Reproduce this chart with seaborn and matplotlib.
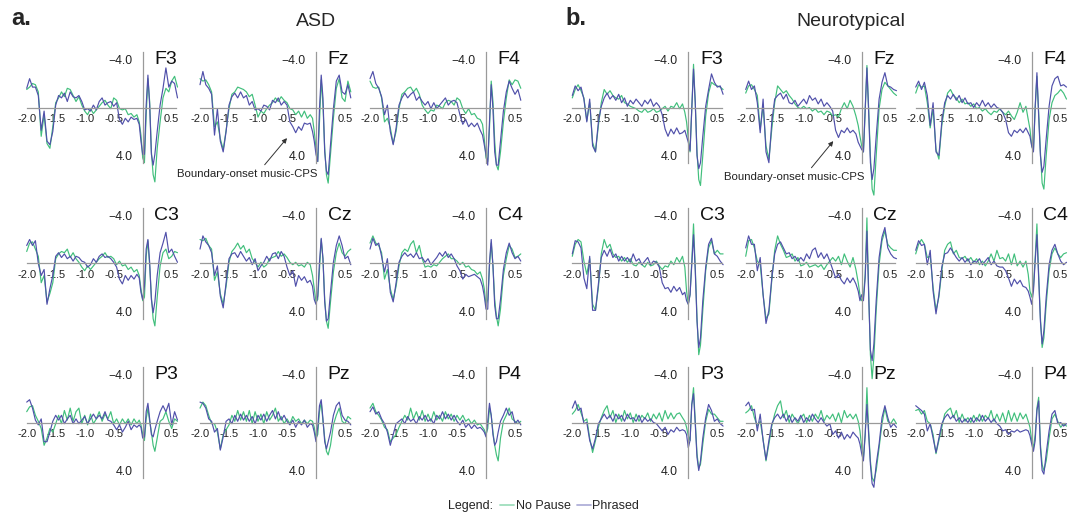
import pandas as pd
import seaborn as sns
import matplotlib.pyplot as plt
from matplotlib.lines import Line2D

# time axis (s), relative to boundary onset
time_s = [-2.00, -1.95, -1.90, -1.85, -1.80, -1.75, -1.70, -1.65, -1.60, -1.55,
          -1.50, -1.45, -1.40, -1.35, -1.30, -1.25, -1.20, -1.15, -1.10, -1.05,
          -1.00, -0.95, -0.90, -0.85, -0.80, -0.75, -0.70, -0.65, -0.60, -0.55,
          -0.50, -0.45, -0.40, -0.35, -0.30, -0.25, -0.20, -0.15, -0.10, -0.06,
          -0.03, 0.00, 0.03, 0.06, 0.09, 0.12, 0.15, 0.18, 0.21, 0.25,
          0.30, 0.35, 0.40, 0.45, 0.50, 0.55, 0.60]

# ---- ASD (uV, negative up) ----
asd_f3_nopause = [-1.5, -1.7, -2.0, -1.9, -1.3, 2.4, 0.6, 3.0, 3.4, 1.6,
                  -0.4, -0.8, -1.3, -0.9, -1.6, -1.5, -1.0, -0.5, -0.9, -0.2,
                  0.3, 0.6, 0.1, 0.5, 0.2, -0.1, -0.4, -0.6, -0.2, 0.1,
                  -0.8, -0.6, 0.1, 0.2, 0.1, 0.6, 0.5, 0.8, 0.6, 1.2,
                  2.3, 4.2, 4.6, 0.6, -2.4, -0.5, 3.7, 5.6, 6.2, 3.4,
                  1.2, -0.8, -1.6, -1.3, -2.2, -2.6, -1.7]
asd_f3_phrased = [-1.6, -2.4, -1.7, -1.7, -1.0, 1.9, 0.3, 2.8, 3.1, 2.0,
                  -0.2, -1.0, -0.8, -1.2, -0.5, -1.3, -0.9, -0.8, -1.0, -0.5,
                  0.2, 0.1, 0.3, -0.2, 0.2, -0.5, -0.8, -0.2, -0.4, -0.5,
                  -0.1, -0.4, 1.0, 1.4, 0.9, 1.2, 0.8, 1.0, 0.9, 1.4,
                  2.8, 3.9, 3.9, -0.2, -2.7, -0.2, 3.9, 4.8, 3.9, 2.0,
                  -0.2, -1.6, -3.3, -1.7, -2.2, -2.0, -0.8]
asd_fz_nopause = [-2.4, -2.2, -2.3, -1.9, -1.3, 1.6, 1.2, 2.6, 3.5, 1.9,
                  0.1, -1.1, -1.3, -1.7, -1.6, -1.5, -1.3, -0.9, -1.1, -0.2,
                  0.8, 0.3, 0.5, 0.1, -0.2, -0.4, -0.8, -0.5, -0.9, -0.6,
                  -0.4, 0.1, 0.2, 0.6, 0.3, 0.8, 0.3, 0.9, 0.6, 0.9,
                  2.0, 3.4, 4.5, 1.2, -2.3, -0.2, 3.4, 5.6, 6.3, 3.9,
                  0.9, -1.6, -2.4, -0.8, -0.5, -2.2, -1.3]
asd_fz_phrased = [-1.9, -3.0, -1.9, -1.6, -1.1, 2.3, 0.1, 2.8, 3.7, 2.0,
                  -0.2, -0.9, -1.2, -0.8, -1.3, -0.8, -1.0, -0.2, -0.5, 0.2,
                  0.1, 0.3, -0.2, -0.1, 0.2, -0.6, -0.4, -0.8, -0.2, -0.5,
                  -0.2, 1.2, 1.6, 2.1, 1.6, 1.9, 1.3, 1.4, 1.3, 2.0,
                  2.8, 3.9, 4.5, 0.1, -2.7, -0.8, 3.7, 5.3, 5.6, 3.1,
                  0.1, -2.2, -2.7, -1.3, -1.1, -1.9, -0.8]
asd_f4_nopause = [-2.2, -1.7, -1.6, -1.7, -0.8, 1.2, 0.9, 1.7, 3.0, 2.0,
                  0.1, -1.1, -1.3, -1.6, -1.7, -1.3, -1.6, -1.1, -0.2, 0.2,
                  0.5, 0.2, 0.3, -0.2, -0.1, 0.1, -0.4, -0.6, -0.5, -0.2,
                  -0.8, -0.6, 0.1, 0.5, 0.1, 0.6, 0.5, 0.9, 1.0, 1.4,
                  2.6, 4.2, 4.5, 1.7, -2.2, -0.5, 2.8, 4.8, 5.2, 3.7,
                  1.2, -0.8, -2.3, -1.9, -2.3, -2.2, -1.6]
asd_f4_phrased = [-2.4, -3.0, -2.0, -1.6, -0.9, 0.6, -0.2, 2.0, 3.1, 1.7,
                  -0.2, -0.8, -1.2, -0.8, -1.1, -1.3, -0.6, -0.9, -0.5, -0.2,
                  -0.5, 0.1, -0.4, 0.1, -0.2, -0.5, -0.8, -0.2, -0.5, -0.6,
                  -0.4, 0.6, 1.4, 1.0, 1.6, 1.3, 1.6, 1.3, 1.9, 2.3,
                  3.1, 3.9, 4.8, 1.2, -1.9, 0.1, 3.7, 4.8, 4.8, 2.8,
                  0.3, -1.3, -2.2, -1.6, -1.1, -1.5, -0.6]
asd_c3_nopause = [-1.0, -1.7, -1.8, -1.2, -0.6, 1.6, 1.0, 3.2, 2.5, 1.6,
                  -0.4, -0.8, -1.0, -0.9, -1.2, -0.5, -0.9, -0.4, -0.1, 0.3,
                  0.6, 0.2, 0.5, 0.2, -0.1, -0.4, -0.6, -0.9, -0.5, -0.6,
                  -0.4, 0.1, -0.2, 0.2, 0.1, 0.5, 0.3, 0.7, 0.5, 1.0,
                  2.1, 3.1, 2.8, -0.6, -1.9, 0.2, 2.8, 4.6, 5.2, 2.8,
                  0.2, -0.9, -1.2, -0.4, -0.6, -1.0, -0.9]
asd_c3_phrased = [-1.5, -2.0, -1.5, -1.9, 0.0, 1.0, 0.5, 3.4, 2.1, 1.0,
                  -0.6, -0.9, -0.5, -0.8, -0.4, -0.6, -0.2, -0.6, -0.5, -0.2,
                  -0.1, 0.3, 0.1, -0.4, -0.1, -0.6, -0.8, -0.5, -0.6, -0.4,
                  -0.1, 0.3, 1.3, 1.7, 1.0, 1.4, 1.0, 1.3, 0.9, 1.2,
                  2.4, 3.0, 1.9, -1.2, -2.0, -0.1, 3.0, 4.1, 3.2, 1.0,
                  -0.9, -1.7, -2.6, -0.9, -1.2, -0.6, -0.1]
asd_cz_nopause = [-2.0, -1.9, -2.1, -1.5, -1.2, 1.4, 0.7, 2.5, 3.4, 1.9,
                  -0.1, -1.0, -1.3, -1.7, -1.2, -1.5, -0.9, -1.2, -0.4, -0.1,
                  0.3, -0.1, 0.3, 0.1, -0.4, -0.5, -0.6, -1.0, -0.6, -0.8,
                  -0.5, -0.1, 0.1, -0.1, 0.2, 0.1, 0.3, -0.1, 0.1, 1.0,
                  2.1, 3.2, 3.0, 0.5, -2.0, -0.4, 3.0, 4.8, 5.4, 3.2,
                  0.7, -0.9, -1.7, -0.9, -0.6, -1.0, -1.2]
asd_cz_phrased = [-1.2, -2.3, -1.8, -1.5, -0.9, 1.0, 0.2, 2.7, 3.7, 1.6,
                  -0.4, -0.8, -0.9, -0.5, -1.0, -0.6, -0.2, -0.5, 0.1, -0.4,
                  0.6, 0.2, -0.1, -0.6, -0.2, -0.8, -0.9, -0.4, -1.0, -0.6,
                  0.3, 1.0, 0.6, 1.9, 1.0, 1.4, 1.1, 1.6, 1.4, 1.9,
                  3.0, 3.4, 2.7, -0.1, -2.1, -0.4, 3.2, 4.8, 4.6, 2.4,
                  -0.1, -1.5, -2.3, -1.5, -0.4, -0.6, 0.1]
asd_c4_nopause = [-1.7, -2.3, -1.7, -1.5, -0.9, 1.3, 0.5, 2.1, 3.0, 1.9,
                  0.2, -0.9, -1.2, -1.0, -1.6, -1.9, -0.9, -1.5, -0.4, 0.3,
                  0.2, 0.3, 0.1, 0.2, -0.1, -0.4, -0.6, -0.8, -0.4, -0.4,
                  -0.2, 0.1, -0.1, 0.3, 0.2, 0.5, 0.6, 0.9, 0.7, 1.3,
                  2.1, 3.5, 3.0, 0.2, -1.7, 0.2, 3.0, 4.4, 5.2, 3.8,
                  1.0, -0.4, -1.5, -1.2, -0.5, -0.6, -0.8]
asd_c4_phrased = [-1.2, -2.1, -1.5, -1.7, -0.6, 0.7, -0.4, 2.4, 3.2, 1.6,
                  -0.1, -0.6, -0.9, -0.6, -0.8, -0.5, -0.9, -0.4, -0.5, -0.1,
                  -0.4, 0.1, -0.2, -0.5, -0.9, -0.6, -1.0, -0.5, -0.8, -0.4,
                  0.2, 0.6, 1.3, 0.9, 1.1, 1.0, 0.9, 1.1, 1.3, 1.9,
                  2.7, 3.8, 3.8, -0.1, -2.0, 0.2, 3.5, 4.6, 4.6, 3.0,
                  0.5, -0.9, -1.7, -0.9, -0.4, -0.6, -0.2]
asd_p3_nopause = [-0.9, -1.3, -1.4, -0.6, -0.1, 0.5, 1.9, 1.3, 0.5, 0.8,
                  0.1, -0.6, 0.1, -1.0, -0.2, -1.2, -0.1, -0.9, -1.2, 0.1,
                  -0.6, 0.2, -0.7, 0.1, -0.3, -0.9, -0.1, -0.7, -0.3, -0.9,
                  0.1, -0.3, 0.2, -0.3, 0.1, -0.3, 0.2, -0.3, 0.1, -0.2,
                  0.2, 1.0, 1.5, -0.3, -1.2, -0.1, 0.8, 1.9, 2.4, 1.3,
                  -0.1, -0.3, -0.9, -0.1, 0.5, -0.3, -0.1]
asd_p3_phrased = [-1.7, -1.9, -1.2, -0.2, 0.2, -0.3, 1.6, 1.6, 0.8, -0.1,
                  -0.6, -0.2, -0.6, 0.1, -0.3, -0.6, 0.1, -0.3, 0.1, -0.2,
                  -0.5, 0.1, -0.3, -0.7, -0.3, -0.6, -0.3, -0.9, -0.2, -0.1,
                  0.2, 0.6, 0.2, 0.8, 0.4, -0.1, 0.6, 0.2, 0.4, 0.2,
                  0.4, 1.3, 1.2, -0.9, -1.6, -0.3, 1.0, 1.2, 0.6, -0.1,
                  -0.9, -1.4, -0.9, -1.6, 0.2, -0.9, -0.2]
asd_pz_nopause = [-1.2, -1.7, -1.4, -0.6, 0.1, 0.1, 0.8, 2.2, 1.0, 0.6,
                  0.2, -0.6, -0.1, -1.0, -0.2, -0.9, -0.1, -1.0, 0.1, -0.9,
                  -0.1, -0.7, 0.1, -0.9, -0.2, -0.6, -1.2, -0.1, -0.5, 0.1,
                  -0.3, 0.1, -0.5, -0.1, -0.3, 0.1, -0.2, 0.1, -0.2, -0.1,
                  0.4, 1.3, 1.0, -0.9, -1.7, -0.1, 1.3, 2.4, 2.7, 1.9,
                  0.2, -0.6, -1.2, -0.1, 0.1, -0.5, -0.3]
asd_pz_phrased = [-1.7, -1.6, -1.2, -0.3, -0.1, 0.8, 0.5, 2.3, 1.2, -0.1,
                  -0.3, 0.1, -0.6, -0.1, -0.7, -0.2, -0.6, -0.1, -0.5, 0.1,
                  -0.6, -0.2, -0.7, -0.1, -0.6, -1.0, -0.3, -0.9, -0.2, -0.6,
                  -0.1, 0.2, -0.2, 0.4, -0.1, 0.2, -0.2, 0.4, 0.1, 0.2,
                  0.8, 1.6, 0.4, -1.4, -1.9, -0.3, 1.6, 2.2, 1.6, 0.8,
                  -0.6, -1.4, -1.7, -0.6, -0.2, -0.1, 0.2]
asd_p4_nopause = [-1.2, -1.6, -0.9, -0.6, -0.2, 0.4, 0.6, 1.6, 1.3, 1.0,
                  0.4, -0.1, -0.6, -0.2, -1.2, -0.3, -0.9, -0.2, -1.0, -0.1,
                  -0.7, -0.1, -0.9, -0.2, -0.6, -0.1, -0.9, -0.3, -0.7, -0.1,
                  -0.6, -0.2, -0.6, -0.1, -0.3, 0.1, -0.2, 0.2, 0.1, 0.4,
                  0.6, 1.0, 0.5, -1.2, -0.6, 0.8, 1.9, 2.7, 3.2, 1.3,
                  -0.1, -0.6, -1.2, -0.3, -0.1, 0.1, -0.1]
asd_p4_phrased = [-0.9, -1.3, -0.7, -0.9, -0.3, 0.1, 0.8, 1.9, 1.0, 0.1,
                  -0.1, -0.3, 0.1, -0.5, -0.1, -0.3, 0.1, -0.5, -0.2, -0.6,
                  -0.1, -0.3, 0.1, -0.6, -0.3, -0.9, -0.3, -0.7, -0.2, -0.6,
                  -0.1, 0.2, -0.2, 0.4, 0.1, 0.5, 0.2, 0.5, 0.4, 0.6,
                  0.8, 1.2, -0.1, -1.6, -0.6, 1.0, 1.9, 1.6, 0.8, -0.1,
                  -0.6, -1.2, -0.6, -0.9, 0.1, -0.2, 0.2]

# ---- Neurotypical ----
nt_f3_nopause = [-0.8, -1.5, -1.9, -1.4, -0.8, 1.1, -0.4, 2.9, 3.7, 1.5,
                 -0.4, -1.5, -1.1, -1.4, -1.0, -0.8, -0.7, -1.0, -0.4, -0.3,
                 -0.1, 0.0, 0.1, 0.3, 0.4, 0.1, 0.4, 0.3, 0.1, 0.4,
                 0.3, 0.1, -0.1, 0.3, -0.1, 0.0, -0.4, 0.1, -0.3, 0.4,
                 1.2, 2.6, 3.7, 0.1, -3.6, -0.4, 3.7, 6.0, 6.5, 4.0,
                 0.7, -1.2, -2.1, -1.9, -1.8, -1.7, -1.5]
nt_f3_phrased = [-1.0, -1.8, -1.4, -1.7, -0.7, 1.2, -0.7, 3.2, 3.7, 1.2,
                 -0.1, -0.8, -1.2, -0.7, -1.0, -0.6, -1.1, -0.4, -0.8, -0.1,
                 -0.6, -0.3, -0.7, -0.4, -0.1, -0.6, -0.3, -0.7, -0.1, -0.4,
                 -0.1, 0.6, 1.8, 2.4, 1.8, 2.2, 1.7, 2.2, 2.1, 1.9,
                 2.4, 2.9, 3.6, 0.1, -3.2, -0.4, 4.0, 5.1, 4.6, 2.4,
                 -0.1, -1.5, -2.8, -2.1, -1.7, -1.8, -1.1]
nt_fz_nopause = [-1.2, -1.8, -1.9, -1.5, -1.0, 1.8, -0.1, 3.2, 4.3, 1.8,
                 -0.4, -1.8, -1.5, -1.2, -1.4, -1.0, -0.7, -0.3, 0.0, 0.1,
                 -0.1, 0.1, 0.0, 0.3, 0.1, 0.4, 0.3, 0.6, 0.3, 0.4,
                 0.7, 0.6, 0.8, 0.1, -0.4, 0.1, -0.6, -0.1, 0.7, 1.5,
                 2.4, 3.2, 3.7, 0.4, -3.5, 0.1, 4.0, 6.8, 7.3, 4.0,
                 0.1, -1.5, -2.1, -1.8, -1.5, -1.2, -1.0]
nt_fz_phrased = [-1.5, -2.2, -1.5, -1.8, -0.4, 2.1, -0.7, 3.7, 4.6, 1.2,
                 -0.7, -1.0, -1.2, -0.7, -1.1, -0.4, -0.3, -0.6, -0.1, -0.4,
                 -0.7, -0.3, -1.0, -0.6, -0.8, -0.3, -0.7, -0.1, -0.4, -0.1,
                 0.3, 1.9, 2.5, 1.9, 2.1, 1.7, 2.1, 1.9, 2.2, 2.9,
                 3.2, 3.5, 3.7, 0.1, -3.3, 0.4, 4.6, 6.0, 5.1, 2.4,
                 -0.7, -2.1, -2.9, -1.8, -1.7, -1.5, -1.4]
nt_f4_nopause = [-1.2, -1.9, -1.7, -1.8, -0.4, 1.7, 0.1, 3.5, 4.3, 1.5,
                 -0.1, -1.2, -1.5, -1.0, -0.8, -0.4, -0.7, -0.3, -0.4, -0.1,
                 -0.3, 0.1, 0.0, 0.3, 0.1, 0.4, 0.6, 0.3, 0.4, 0.1,
                 0.4, 0.6, 0.3, 0.7, 1.0, 0.4, -0.4, 0.4, -0.1, 1.0,
                 1.8, 3.2, 3.6, 0.1, -2.6, 0.4, 3.7, 6.3, 6.8, 4.0,
                 1.0, -0.4, -1.0, -1.2, -1.5, -1.2, -0.7]
nt_f4_phrased = [-1.7, -2.2, -1.5, -2.1, -1.0, 1.5, -0.4, 3.7, 4.0, 1.2,
                 -0.4, -1.0, -0.7, -1.1, -0.6, -1.0, -0.4, -0.8, -0.3, -0.4,
                 0.0, -0.4, -0.1, -0.6, -0.1, -0.4, 0.0, -0.3, 0.0, 0.1,
                 0.4, 1.0, 2.1, 2.4, 1.9, 2.1, 1.8, 2.1, 1.7, 2.1,
                 2.4, 3.2, 3.7, -0.1, -2.9, 0.7, 4.0, 5.4, 4.9, 2.6,
                 -0.1, -1.8, -2.4, -2.6, -1.8, -1.9, -1.7]
nt_c3_nopause = [-0.6, -1.6, -2.0, -1.8, -0.2, 0.9, -0.4, 3.4, 3.9, 2.0,
                 -0.8, -2.0, -1.3, -1.6, -0.8, -0.5, -0.6, -0.2, -0.5, -0.1,
                 -0.4, 0.1, 0.2, -0.1, 0.1, 0.3, -0.1, 0.2, 0.1, -0.2,
                 0.2, 0.5, 0.2, 0.3, -0.2, 0.1, -0.5, -0.1, -0.6, 0.3,
                 2.3, 3.4, 2.6, -0.2, -3.3, 0.3, 4.5, 7.6, 6.8, 3.9,
                 0.6, -1.3, -1.9, -0.8, -1.1, -0.8, -0.8]
nt_c3_phrased = [-0.8, -1.9, -1.8, -1.3, 1.2, 2.1, -0.6, 3.9, 3.9, 1.7,
                 -0.5, -1.1, -0.6, -1.2, -0.5, -0.8, -0.2, -0.6, -0.2, -0.5,
                 -0.1, -0.8, -0.2, -0.4, 0.1, -0.2, -0.5, 0.1, -0.2, -0.1,
                 0.3, 1.6, 2.1, 2.0, 2.4, 1.9, 2.3, 2.0, 2.6, 2.4,
                 3.1, 3.4, 2.6, 0.1, -2.4, 0.6, 4.8, 7.0, 6.2, 3.1,
                 0.3, -1.6, -2.1, -0.8, -0.6, -0.2, 0.1]
nt_cz_nopause = [-0.6, -1.9, -2.0, -1.3, -0.2, 0.1, 2.6, 4.6, 4.2, 1.4,
                 -1.1, -2.3, -1.6, -1.1, -0.5, -0.6, -0.8, -0.2, -0.5, 0.2,
                 0.1, -0.1, 0.3, 0.2, 0.1, 0.3, 0.1, 0.5, 0.1, -0.2,
                 -0.5, -0.2, -0.6, 0.1, -0.8, -0.2, 0.3, -0.5, 0.5, 1.6,
                 2.6, 3.1, 2.8, 0.9, -3.8, 2.3, 7.6, 9.6, 7.8, 3.9,
                 0.1, -1.9, -2.7, -1.6, -1.3, -1.1, -1.1]
nt_cz_phrased = [-1.3, -2.3, -1.6, -1.6, 0.6, -0.5, 2.6, 5.0, 3.9, 1.2,
                 -0.8, -1.6, -1.8, -1.3, -0.8, -0.9, -0.4, -0.6, -0.2, -0.5,
                 -0.2, -0.8, -0.4, -1.1, -1.3, -0.5, -0.9, -0.4, -0.8, -0.2,
                 0.5, 1.2, 0.9, 1.4, 1.7, 1.2, 1.6, 1.2, 1.7, 2.3,
                 3.1, 2.6, 3.1, 1.2, -2.7, 2.6, 7.2, 8.1, 6.7, 3.1,
                 -0.5, -2.2, -3.0, -1.3, -0.8, -0.5, -0.4]
nt_c4_nopause = [-0.8, -1.6, -2.0, -1.6, -0.5, -0.6, 2.0, 3.9, 2.8, 0.6,
                 -1.1, -1.6, -1.8, -0.8, -1.1, -0.5, -0.4, -0.6, -0.2, -0.5,
                 -0.1, -0.4, 0.1, -0.2, 0.2, -0.2, -0.8, -0.2, -1.1, -0.4,
                 -0.5, -0.2, -0.8, 0.1, -0.8, 0.2, -0.2, 0.3, -0.2, 0.9,
                 2.3, 2.8, 2.0, -0.5, -3.3, 0.9, 4.5, 7.0, 6.2, 3.4,
                 0.6, -0.8, -1.3, -0.8, -0.5, -0.8, -0.9]
nt_c4_phrased = [-1.1, -1.9, -1.5, -1.6, 0.1, -1.1, 2.3, 4.2, 2.6, 0.3,
                 -0.8, -0.9, -1.3, -0.9, -0.5, -0.2, -0.5, -0.1, -0.4, 0.1,
                 -0.2, -0.1, -0.4, 0.1, -0.2, -0.5, 0.1, -0.2, 0.2, 0.3,
                 0.3, 0.6, 1.2, 1.9, 1.3, 1.7, 1.4, 1.9, 2.0, 2.3,
                 2.8, 3.4, 2.3, -0.2, -2.4, 1.2, 4.8, 6.7, 5.6, 2.8,
                 0.1, -1.1, -1.6, -0.8, -0.2, 0.1, -0.1]
nt_p3_nopause = [-0.7, -1.0, -1.5, -0.8, -0.1, -0.3, 1.3, 2.5, 1.5, 0.4,
                 -0.4, -1.0, -1.4, -0.4, -1.0, 0.0, -0.7, -0.1, -1.0, -0.3,
                 -0.8, 0.0, -0.7, -0.1, -0.6, -0.3, -0.8, -0.1, -0.7, -0.3,
                 -0.8, -0.1, -1.0, -0.3, -0.8, -0.3, -0.7, -0.8, -0.4, -0.1,
                 0.4, 1.1, 1.5, -1.5, -2.9, -0.1, 2.6, 3.8, 3.5, 1.8,
                 -0.1, -1.1, -0.7, -0.7, -0.4, -0.1, -0.1]
nt_p3_phrased = [-1.2, -1.8, -1.0, -1.2, 0.1, 0.0, 1.5, 2.2, 1.3, 0.1,
                 -0.3, -0.7, -0.3, -0.6, -0.1, -0.7, -0.3, -0.6, -0.1, -0.7,
                 -0.3, -0.4, -0.1, -0.6, 0.0, -0.4, -0.1, -0.3, 0.0, 0.1,
                 0.4, 0.7, 0.4, 1.0, 0.6, 0.8, 0.4, 0.7, 0.6, 0.7,
                 1.0, 2.1, 1.5, -1.5, -2.4, 0.1, 2.9, 4.0, 3.2, 1.3,
                 -0.4, -1.5, -1.0, -0.1, -0.3, 0.1, 0.3]
nt_pz_nopause = [-0.8, -1.0, -1.4, -0.4, 0.3, -0.1, 1.4, 3.2, 1.8, 0.3,
                 -0.7, -1.4, -1.8, -0.4, -1.0, 0.0, -0.7, -0.3, 0.1, -0.4,
                 -0.7, 0.0, -0.6, -0.1, -0.7, -0.3, -1.0, -0.1, -0.6, -0.3,
                 -0.7, -0.1, -0.8, 0.0, -1.0, -0.4, -0.7, -0.3, -0.7, -0.1,
                 0.7, 2.1, 2.9, 1.0, -2.9, 0.7, 3.2, 4.6, 4.9, 4.0,
                 2.1, 0.1, -1.2, -0.1, 0.1, -0.3, 0.1]
nt_pz_phrased = [-1.4, -1.7, -1.0, -1.1, 0.7, -0.7, 1.5, 3.1, 1.5, 0.1,
                 -0.4, -0.7, -0.3, -0.7, -0.1, -0.6, 0.0, -0.4, -0.1, -0.6,
                 0.0, -0.4, -0.1, -0.7, -0.3, 0.0, -0.4, 0.0, 0.3, 0.1,
                 1.0, 0.7, 1.3, 0.8, 1.4, 1.0, 1.3, 0.8, 1.1, 1.3,
                 1.8, 2.6, 3.2, 1.0, -1.5, 1.0, 3.5, 5.1, 5.4, 3.5,
                 1.8, -0.4, -1.4, -0.4, 0.4, 0.1, 0.4]
nt_p4_nopause = [-1.0, -1.1, -0.7, -1.0, -0.1, 0.1, 1.0, 2.6, 1.5, 0.4,
                 -0.7, -1.0, -1.2, -0.4, -1.0, 0.0, -0.7, -0.1, -0.4, 0.0,
                 -0.6, -0.1, -0.7, -0.1, -0.6, -0.3, -1.0, -0.1, -0.7, -0.1,
                 -0.8, 0.0, -1.0, -0.1, -0.8, -0.1, -0.8, -0.3, -0.7, -0.1,
                 0.4, 1.5, 2.1, 1.0, -1.2, -2.1, 1.8, 3.5, 4.0, 3.2,
                 1.3, -0.3, -0.7, -0.1, 0.4, 0.1, 0.3]
nt_p4_phrased = [-1.4, -1.2, -1.0, -0.7, 0.7, 0.1, 1.3, 2.5, 1.3, 0.1,
                 -0.4, -0.7, -0.3, -0.6, -0.1, -0.4, 0.0, -0.3, 0.0, -0.4,
                 0.0, -0.4, -0.1, -0.6, -0.1, -0.4, 0.0, -0.3, 0.1, 0.3,
                 0.7, 0.6, 1.0, 0.7, 0.8, 0.6, 0.8, 0.7, 0.6, 0.7,
                 1.1, 1.8, 2.4, 1.5, -1.0, -1.8, 2.1, 4.0, 4.3, 2.6,
                 0.7, -0.7, -1.0, 0.1, 0.0, 0.3, 0.1]

channel_grid = [["F3", "Fz", "F4"], ["C3", "Cz", "C4"], ["P3", "Pz", "P4"]]
x_ticks = [-2.0, -1.5, -1.0, -0.5, 0.5]
x_ticklabels = ["-2.0", "-1.5", "-1.0", "-0.5", "0.5"]
y_ticks = [-4.0, 4.0]
y_ticklabels = ["\u22124.0", "4.0"]

traces = {
    "ASD": {
        "F3": (asd_f3_nopause, asd_f3_phrased), "Fz": (asd_fz_nopause, asd_fz_phrased),
        "F4": (asd_f4_nopause, asd_f4_phrased), "C3": (asd_c3_nopause, asd_c3_phrased),
        "Cz": (asd_cz_nopause, asd_cz_phrased), "C4": (asd_c4_nopause, asd_c4_phrased),
        "P3": (asd_p3_nopause, asd_p3_phrased), "Pz": (asd_pz_nopause, asd_pz_phrased),
        "P4": (asd_p4_nopause, asd_p4_phrased),
    },
    "Neurotypical": {
        "F3": (nt_f3_nopause, nt_f3_phrased), "Fz": (nt_fz_nopause, nt_fz_phrased),
        "F4": (nt_f4_nopause, nt_f4_phrased), "C3": (nt_c3_nopause, nt_c3_phrased),
        "Cz": (nt_cz_nopause, nt_cz_phrased), "C4": (nt_c4_nopause, nt_c4_phrased),
        "P3": (nt_p3_nopause, nt_p3_phrased), "Pz": (nt_pz_nopause, nt_pz_phrased),
        "P4": (nt_p4_nopause, nt_p4_phrased),
    },
}

rows = []
for group, chans in traces.items():
    for ch, (nopause, phrased) in chans.items():
        assert len(nopause) == len(time_s) and len(phrased) == len(time_s), (group, ch)
        for cond, vals in (("No Pause", nopause), ("Phrased", phrased)):
            for t, v in zip(time_s, vals):
                rows.append((group, ch, cond, t, v))
df = pd.DataFrame(rows, columns=["group", "channel", "condition", "time", "uv"])

sns.set_theme(style="white")
plt.rcParams["font.family"] = ["Liberation Sans", "DejaVu Sans"]

green = "#41bf7c"
purple = "#5050aa"
axis_col = "#9a9a9a"
palette = {"No Pause": green, "Phrased": purple}

W, H = 1077, 515
fig = plt.figure(figsize=(W / 100, H / 100), dpi=100)

# pixel layout of each panel origin (t=0, 0 uV)
col_x = {"ASD": [142.7, 316.0, 486.0], "Neurotypical": [688.3, 861.7, 1031.7]}
row_y = [107.5, 263.5, 422.5]
px_s, px_uv = 58.0, 12.0
x_lo, x_hi, y_top, y_bot = -2.15, 0.75, -5.5, 10.5

axes = {}
for group in traces:
    for r, chans in enumerate(channel_grid):
        for c, ch in enumerate(chans):
            x0, y0 = col_x[group][c], row_y[r]
            rect = [(x0 + x_lo * px_s) / W, 1 - (y0 + y_bot * px_uv) / H,
                    (x_hi - x_lo) * px_s / W, (y_bot - y_top) * px_uv / H]
            ax = fig.add_axes(rect)
            ax.patch.set_alpha(0)
            sub = df[(df.group == group) & (df.channel == ch)]
            sns.lineplot(data=sub, x="time", y="uv", hue="condition",
                         hue_order=["No Pause", "Phrased"], palette=palette,
                         legend=False, ax=ax, linewidth=0.85, sort=False)
            for ln in ax.lines:
                ln.set_clip_on(False)
            ax.set_xlim(x_lo, x_hi)
            ax.set_ylim(y_bot, y_top)
            ax.set_xlabel("")
            ax.set_ylabel("")
            for s in ("top", "right"):
                ax.spines[s].set_visible(False)
            ax.spines["left"].set_position(("data", 0))
            ax.spines["bottom"].set_position(("data", 0))
            ax.spines["left"].set_bounds(-4.6, 4.6)
            ax.spines["bottom"].set_bounds(-2.0, 0.58)
            for s in ("left", "bottom"):
                ax.spines[s].set_color(axis_col)
                ax.spines[s].set_linewidth(0.9)
            ax.set_xticks(x_ticks)
            ax.set_xticklabels(x_ticklabels)
            ax.set_yticks(y_ticks)
            ax.set_yticklabels(y_ticklabels)
            ax.tick_params(axis="x", direction="in", length=5, width=0.8,
                           color=axis_col, labelsize=8, pad=5, labelcolor="#222")
            ax.tick_params(axis="y", direction="inout", length=11, width=0.8,
                           color=axis_col, labelsize=8.8, pad=2, labelcolor="#222")
            ax.text(0.2, -4.0, ch, fontsize=14, ha="left", va="center", color="#111")
            axes[(group, ch)] = ax

# boundary annotations
axes[("ASD", "Fz")].annotate(
    "Boundary-onset music-CPS", xy=(-0.50, 2.55), xytext=(-1.19, 5.55),
    ha="center", va="center", fontsize=8.2, color="#222",
    arrowprops=dict(arrowstyle="-|>", color="#333", lw=0.7, mutation_scale=7,
                    relpos=(0.6, 1.0), shrinkA=1, shrinkB=0))
axes[("Neurotypical", "Fz")].annotate(
    "Boundary-onset music-CPS", xy=(-0.49, 2.8), xytext=(-1.17, 5.8),
    ha="center", va="center", fontsize=8.2, color="#222",
    arrowprops=dict(arrowstyle="-|>", color="#333", lw=0.7, mutation_scale=7,
                    relpos=(0.6, 1.0), shrinkA=1, shrinkB=0))

# panel titles
fig.text(11 / W, 1 - 25 / H, "a.", fontsize=17, fontweight="bold", va="baseline")
fig.text(565 / W, 1 - 25 / H, "b.", fontsize=17, fontweight="bold", va="baseline")
fig.text(316 / W, 1 - 26 / H, "ASD", fontsize=14, ha="center", va="baseline")
fig.text(851 / W, 1 - 26 / H, "Neurotypical", fontsize=14, ha="center", va="baseline")

# legend
fig.text(448 / W, 1 - 506 / H, "Legend:", fontsize=9, ha="left", va="center", color="#222")
handles = [Line2D([], [], color=green, alpha=0.5, lw=1.3),
           Line2D([], [], color=purple, alpha=0.45, lw=1.3)]
fig.legend(handles, ["No Pause", "Phrased"], loc="center left",
           bbox_to_anchor=(500 / W, 1 - 506 / H), ncol=2, frameon=False,
           fontsize=9, handlelength=1.1, handletextpad=0.15, columnspacing=0.5,
           borderpad=0, borderaxespad=0)

fig.savefig("out.png", dpi=100)
